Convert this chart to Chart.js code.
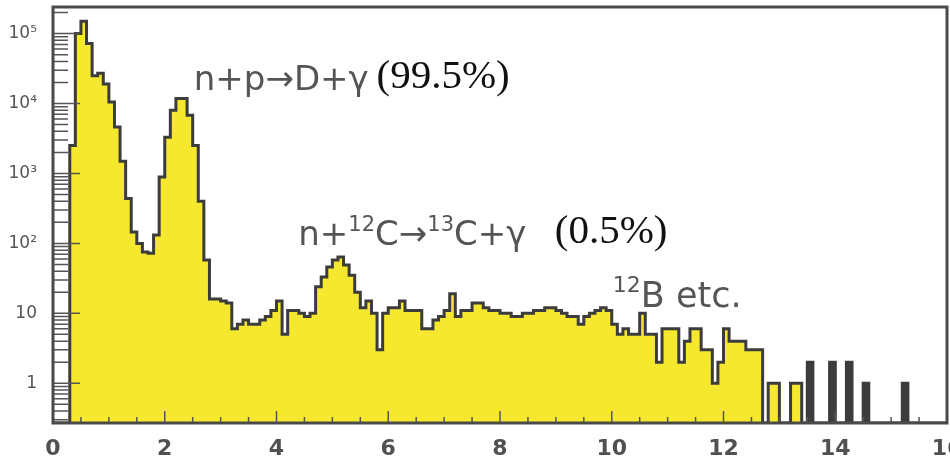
<!DOCTYPE html>
<html lang="en">
<head>
<meta charset="UTF-8">
<title>Neutron capture spectrum</title>
<script src="https://cdn.jsdelivr.net/npm/chart.js"></script>
<style>
  html, body { margin: 0; padding: 0; background: #fff; overflow: hidden; }
  canvas { display: block; }
</style>
</head>
<body>
<canvas id="spectrum" width="950" height="468"></canvas>
<script>
// counts per 0.1 MeV bin, first bin starts at 0
const binWidth = 0.1;
const counts = [
  0, 0, 0, 2500, 100000, 150000, 72000, 25000, 27000, 19000,
  10500, 4600, 1500, 440, 146, 100, 75, 72, 132, 890,
  3300, 8000, 11800, 11800, 6800, 2500, 400, 58, 16, 16,
  15, 14, 6, 7, 8, 7, 7, 8, 9, 11,
  15, 5, 11, 11, 10, 9, 10, 24, 33, 46,
  58, 64, 49, 35, 20, 12, 15, 10, 3, 10,
  12, 12, 15, 11, 11, 11, 6, 6, 8, 9,
  11, 19, 9, 11, 11, 14, 14, 12, 11, 11,
  10, 10, 9, 9, 10, 10, 11, 11, 12, 12,
  11, 10, 9, 9, 7, 9, 10, 11, 12, 11,
  7, 5, 6, 5, 5, 10, 5, 5, 2, 6,
  6, 6, 2, 4, 6, 6, 3, 3, 1, 2,
  6, 4, 4, 4, 3, 3, 3, 0, 1, 1,
  0, 0, 1, 1, 0, 2, 0, 0, 0, 2,
  0, 0, 2, 0, 0, 1, 0, 0, 0, 0,
  0, 0, 1, 0, 0, 0, 0, 0, 0, 0
];
// isolated tail bins that print solid dark
const darkBins = [13.5, 13.9, 14.2, 14.5, 15.2];

const xTicks = [0, 2, 4, 6, 8, 10, 12, 14, 16];
const yTicks = [1, 10, 100, 1000, 10000, 100000];
const yTickLabels = ['1', '10', '10²', '10³', '10⁴', '10⁵'];
const yMin = 0.27;
const yMax = 2.4e5;

const sans = '"DejaVu Sans"';
const serif = '"Liberation Serif"';
const notes = [
  { x: 2.52, y: 15500, size: 34, family: sans, color: '#555', parts: [['n+p→D+γ']] },
  { x: 5.79, y: 16500, size: 41, family: serif, color: '#111', parts: [['(99.5%)']] },
  { x: 4.39, y: 95, size: 34, family: sans, color: '#555',
    parts: [['n+'], ['12', true], ['C→'], ['13', true], ['C+γ']] },
  { x: 8.98, y: 101, size: 41, family: serif, color: '#111', parts: [['(0.5%)']] },
  { x: 10.02, y: 12.3, size: 35, family: sans, color: '#555', parts: [['12', true], ['B etc.']] }
];

// histogram outline: flat top over each bin, empty bins sit on the axis floor
const outline = [];
counts.forEach((c, i) => {
  const y = c > 0 ? c : yMin;
  outline.push({ x: +(i * binWidth).toFixed(2), y: y });
  outline.push({ x: +((i + 1) * binWidth).toFixed(2), y: y });
});

const darkBars = darkBins.map(b => ({
  x: b + binWidth / 2,
  y: counts[Math.round(b / binWidth)]
}));

// inward tick marks and the box round the plot
const frame = {
  id: 'frame',
  afterDatasetsDraw(chart) {
    const { ctx, chartArea: a, scales: { x, y } } = chart;
    ctx.save();
    ctx.strokeStyle = '#555';
    ctx.lineWidth = 1.5;
    ctx.beginPath();
    for (let v = 0.5; v < 16; v += 0.5) {
      const px = x.getPixelForValue(v);
      const len = v % 2 === 0 ? 12 : 6;
      ctx.moveTo(px, a.bottom);
      ctx.lineTo(px, a.bottom - len);
    }
    for (let d = -1; d <= 5; d++) {
      for (let m = 1; m <= 9; m++) {
        const v = m * Math.pow(10, d);
        if (v < yMin || v > yMax) continue;
        const py = y.getPixelForValue(v);
        ctx.moveTo(a.left, py);
        ctx.lineTo(a.left + (m === 1 ? 27 : 15), py);
      }
    }
    ctx.stroke();
    ctx.strokeStyle = '#4a4a4a';
    ctx.lineWidth = 3;
    ctx.strokeRect(a.left, a.top, a.right - a.left, a.bottom - a.top);
    ctx.restore();
  }
};

const notesPlugin = {
  id: 'notes',
  afterDraw(chart) {
    const { ctx, scales: { x, y } } = chart;
    ctx.save();
    ctx.textBaseline = 'alphabetic';
    notes.forEach(n => {
      let px = x.getPixelForValue(n.x);
      const py = y.getPixelForValue(n.y);
      n.parts.forEach(([t, sup]) => {
        const size = sup ? Math.round(n.size * 0.62) : n.size;
        ctx.font = size + 'px ' + n.family;
        ctx.fillStyle = n.color;
        ctx.fillText(t, px, sup ? py - n.size * 0.42 : py);
        px += ctx.measureText(t).width;
      });
    });
    ctx.restore();
  }
};

Chart.defaults.font.family = sans;

new Chart(document.getElementById('spectrum'), {
  data: {
    datasets: [
      {
        type: 'bar',
        order: 0,
        data: darkBars,
        backgroundColor: '#3c3c3c',
        barThickness: 7,
        grouped: false
      },
      {
        type: 'line',
        order: 1,
        data: outline,
        borderColor: '#3c3c3c',
        borderWidth: 3,
        backgroundColor: '#f6e82e',
        fill: 'start',
        pointRadius: 0,
        tension: 0
      }
    ]
  },
  options: {
    responsive: false,
    devicePixelRatio: 1,
    animation: false,
    layout: { padding: { top: 7, right: 3, left: 0, bottom: 0 } },
    plugins: { legend: { display: false }, tooltip: { enabled: false } },
    scales: {
      x: {
        type: 'linear',
        min: 0,
        max: 16,
        offset: false,
        afterBuildTicks: s => { s.ticks = xTicks.map(v => ({ value: v })); },
        afterFit: s => { s.height = 45; s.paddingLeft = 0; s.paddingRight = 0; },
        grid: { display: false, drawTicks: false },
        border: { display: false },
        ticks: {
          autoSkip: false,
          maxRotation: 0,
          padding: 13,
          color: '#505050',
          font: { size: 22, weight: 'bold' },
          callback: v => String(v)
        }
      },
      y: {
        type: 'logarithmic',
        min: yMin,
        max: yMax,
        afterBuildTicks: s => { s.ticks = yTicks.map(v => ({ value: v })); },
        afterFit: s => { s.width = 53; s.paddingTop = 0; s.paddingBottom = 0; },
        grid: { display: false, drawTicks: false },
        border: { display: false },
        ticks: {
          autoSkip: false,
          padding: 16,
          color: '#555',
          font: { size: 17 },
          callback: (v, i) => yTickLabels[i]
        }
      }
    }
  },
  plugins: [frame, notesPlugin]
});
</script>
</body>
</html>
